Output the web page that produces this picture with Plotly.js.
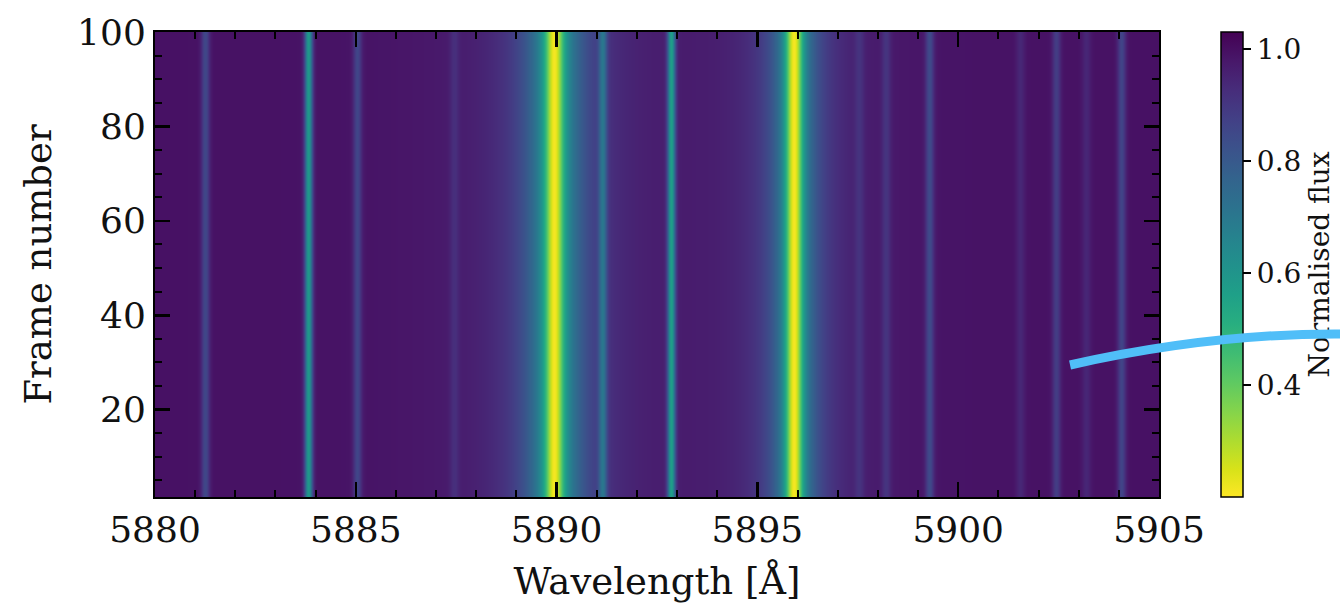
<!DOCTYPE html>
<html><head><meta charset="utf-8">
<script src="https://cdn.plot.ly/plotly-3.0.1.min.js"></script>
<style>html,body{margin:0;padding:0;background:#fff;}</style>
</head><body><div id="chart" style="width:1340px;height:603px;"></div>
<script>
// Wavelength grid and frames
const wlMin = 5880, wlMax = 5905, wlStep = 0.025;
const frameFirst = 1, frameLast = 100;
const continuum = 0.995;
// Absorption lines (Å)
const lineCenters = [5881.25, 5883.83, 5885.05, 5887.45, 5889.95, 5891.16, 5892.85, 5895.92, 5897.55, 5898.22, 5899.28, 5901.55, 5902.45, 5903.20, 5904.08];
const coreDepths  = [0.14,    0.40,    0.13,    0.05,    0.33,    0.20,    0.40,    0.36,    0.05,    0.07,    0.14,    0.05,    0.11,    0.05,    0.13];
const coreSigmas  = [0.075,   0.07,    0.075,   0.08,    0.15,    0.075,   0.07,    0.14,    0.08,    0.08,    0.075,   0.08,    0.075,   0.08,    0.075];
const wingDepths  = [0,       0,       0,       0,       0.45,    0,       0,       0.42,    0,       0,       0,       0,       0,       0,       0];
const wingWidths  = [1,       1,       1,       1,       0.6,     1,       1,       0.48,    1,       1,       1,       1,       1,       1,       1];
// Colour bar ticks
const cbTicks = [0.4, 0.6, 0.8, 1.0];

const wavelengths = [];
for (let w = wlMin; w <= wlMax + 1e-9; w += wlStep) wavelengths.push(+w.toFixed(4));
const frames = [];
for (let f = frameFirst; f <= frameLast; f++) frames.push(f);

const spectrum = wavelengths.map(w => {
  let f = continuum;
  for (let i = 0; i < lineCenters.length; i++) {
    const d = w - lineCenters[i];
    f -= coreDepths[i] * Math.exp(-0.5 * (d / coreSigmas[i]) ** 2);
    f -= wingDepths[i] / (1 + (d / wingWidths[i]) ** 2);
  }
  return f;
});
const z = frames.map(() => spectrum);

const serif = "DejaVu Serif";
const trace = {
  type: 'heatmap', x: wavelengths, y: frames, z: z,
  colorscale: 'Viridis', reversescale: true, zmin: 0.2, zmax: 1.03,
  zsmooth: false, hoverinfo: 'skip',
  colorbar: {
    x: 1.0618, xanchor: 'left', xpad: 0, y: 0.5, yanchor: 'middle', ypad: 0,
    len: 1, lenmode: 'fraction', thickness: 22, thicknessmode: 'pixels',
    outlinewidth: 1.5, outlinecolor: '#000',
    tickvals: cbTicks, tickformat: '.1f', ticks: 'outside', ticklen: 8, tickwidth: 1.5, tickcolor: '#000',
    tickfont: {family: serif, size: 28, color: '#111'},
    title: {text: 'Normalised flux', side: 'right', font: {family: serif, size: 28, color: '#111'}}
  }
};

const axisCommon = {
  showgrid: false, zeroline: false, showline: true, linecolor: '#000', linewidth: 2,
  ticks: 'inside', mirror: 'allticks', tickcolor: '#000', tickwidth: 2.5, ticklen: 15,
  tickfont: {family: serif, size: 36, color: '#111'}
};

const layout = {
  width: 1340, height: 603,
  margin: {l: 155, r: 181, t: 32, b: 106, autoexpand: false},
  paper_bgcolor: '#fff', plot_bgcolor: '#fff',
  showlegend: false,
  xaxis: Object.assign({}, axisCommon, {
    range: [wlMin, wlMax], tick0: 5880, dtick: 5,
    minor: {ticks: 'inside', dtick: 1, ticklen: 7, tickwidth: 2, tickcolor: '#000', showgrid: false},
    title: {text: 'Wavelength [Å]', font: {family: serif, size: 37, color: '#111'}, standoff: 28}
  }),
  yaxis: Object.assign({}, axisCommon, {
    range: [1.5, 100], tick0: 0, dtick: 20,
    minor: {ticks: 'inside', dtick: 5, ticklen: 7, tickwidth: 2, tickcolor: '#000', showgrid: false},
    title: {text: 'Frame number', font: {family: serif, size: 37, color: '#111'}, standoff: 14}
  }),
  shapes: [{
    type: 'path', xref: 'paper', yref: 'paper', layer: 'above',
    path: 'M 0.9114 0.2839 Q 1.0518 0.352 1.1803 0.3505',
    line: {color: 'rgb(80,190,248)', width: 9}
  }]
};

Plotly.newPlot('chart', [trace], layout, {displayModeBar: false, staticPlot: true}).then(() => {
  const above = document.querySelector('.layer-above');
  if (above && above.parentNode) above.parentNode.appendChild(above);
});
</script>
</body></html>
